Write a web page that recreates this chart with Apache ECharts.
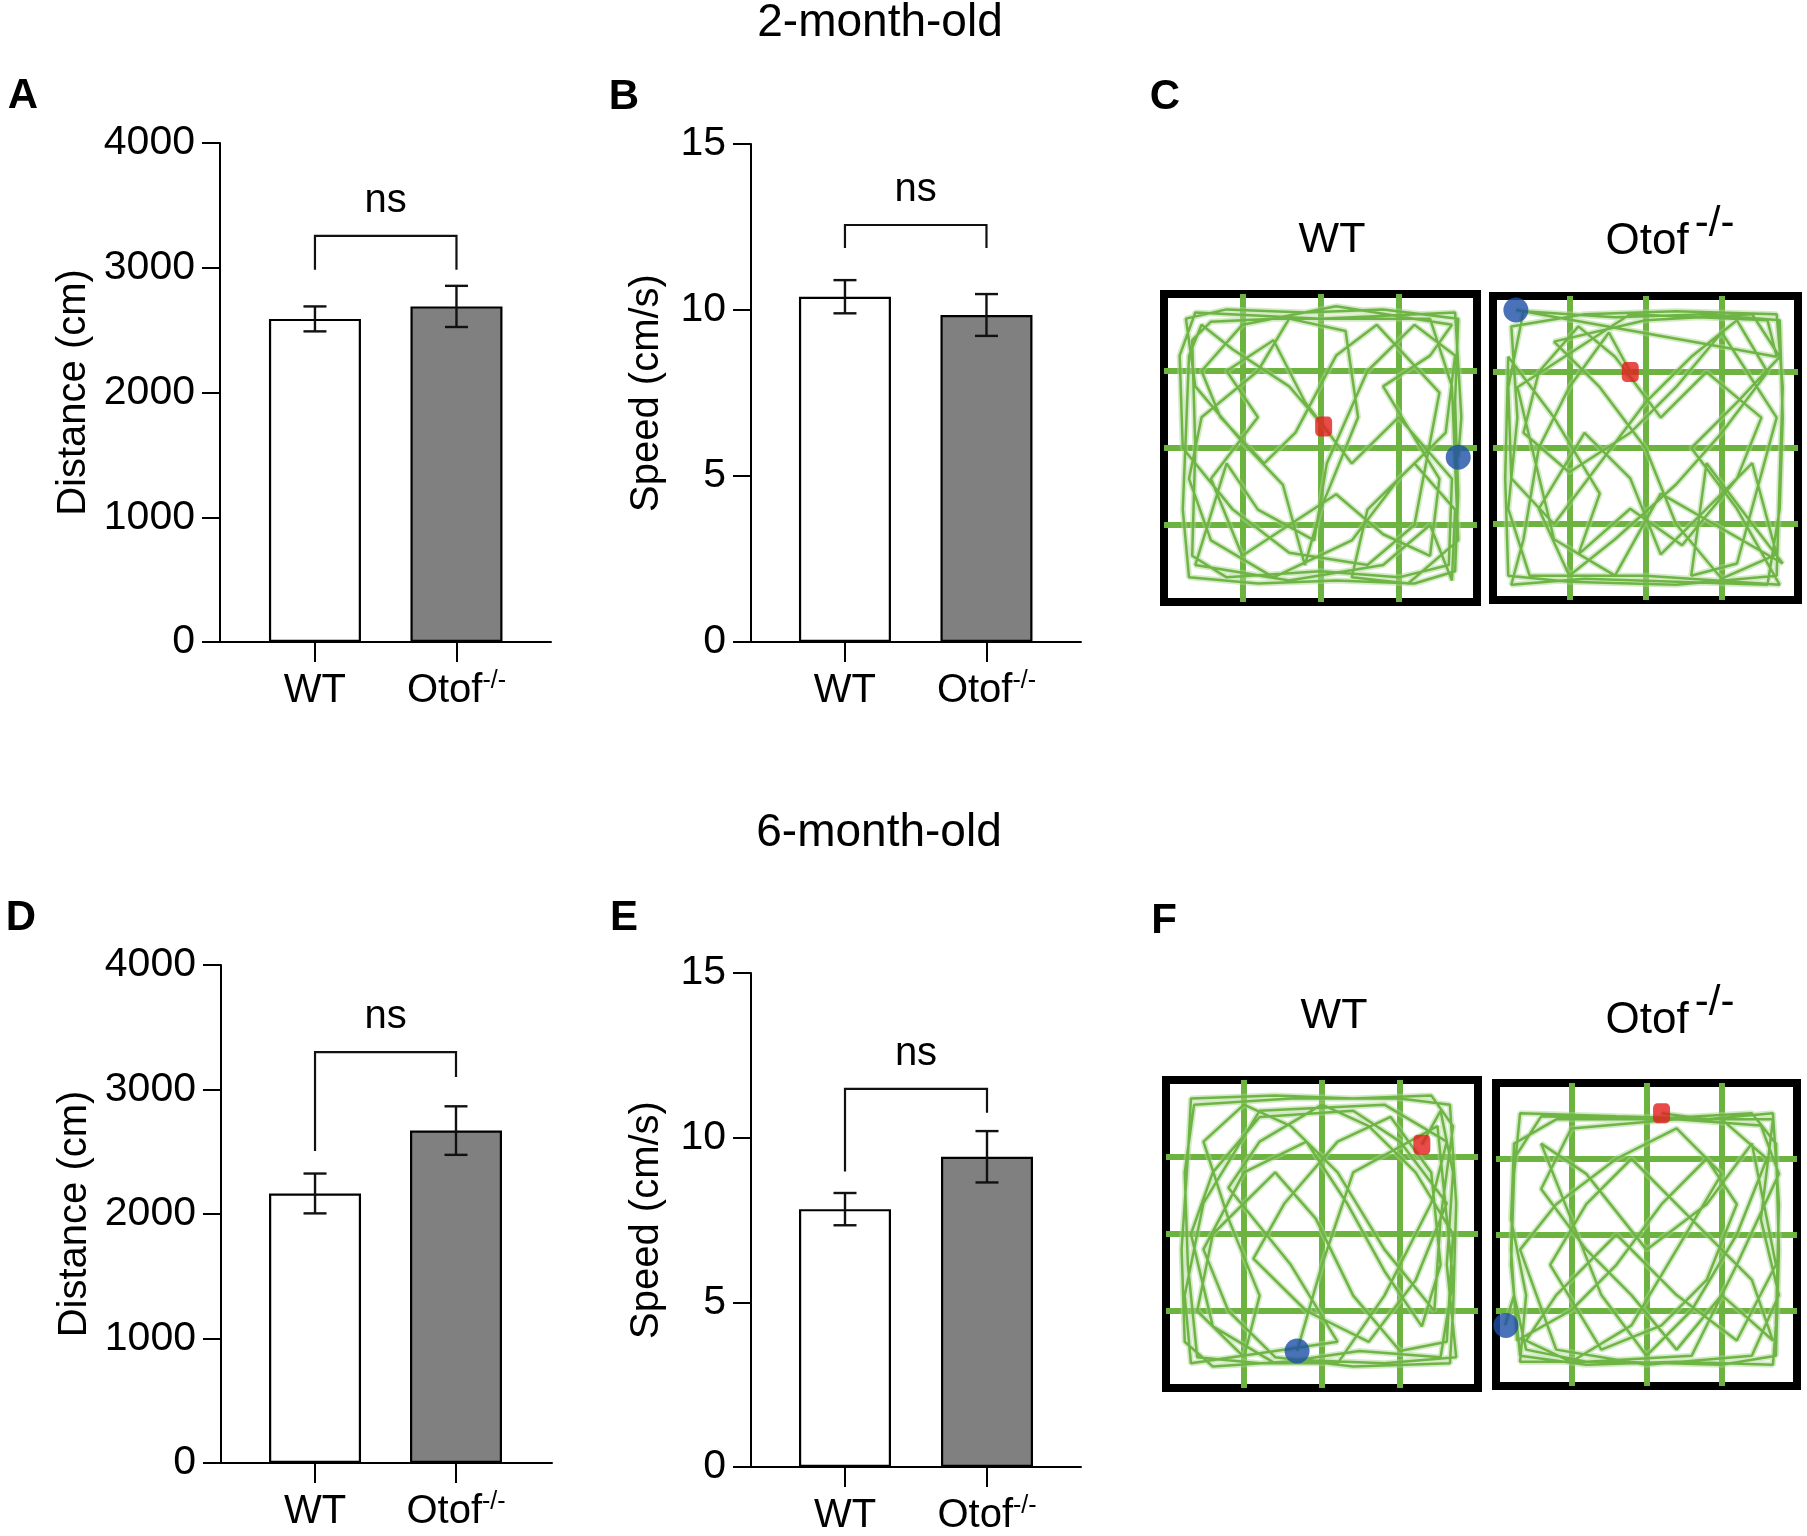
<!DOCTYPE html>
<html>
<head>
<meta charset="utf-8">
<script src="https://cdn.jsdelivr.net/npm/echarts@6.0.0/dist/echarts.min.js"></script>
<style>
  html, body { margin: 0; padding: 0; background: #fff; }
  #chart { width: 1807px; height: 1536px; }
</style>
</head>
<body>
<div id="chart"></div>
<script>
// ---- data ----
const groupPos = [1, 2];
const groupNames = ["WT", "Otof"];

const distance2m = [2590, 2690];
const distance2mSem = [100, 165];
const speed2m = [10.4, 9.85];
const speed2mSem = [0.5, 0.63];

const distance6m = [2165, 2670];
const distance6mSem = [160, 195];
const speed6m = [7.83, 9.42];
const speed6mSem = [0.49, 0.78];

// bracket: [top, left leg end, right leg end]
const bracketA = [3256, 2984, 2984];
const bracketB = [12.56, 11.87, 11.87];
const bracketD = [3300, 2506, 3100];
const bracketE = [11.48, 8.97, 10.76];

const distanceTicks = { min: 0, max: 4000, interval: 1000 };
const speedTicks = { min: 0, max: 15, interval: 5 };
const arenaLines = { min: 0, max: 100, interval: 25 };

// open-field tracks, arena coordinates in % (y from top)
const trackC_WT = [[51,43],[40,30],[22,18],[12,10],[8,20],[7,45],[6,70],[8,92],[30,94],[55,93],[80,94],[93,90],[94,65],[93,35],[94,8],[70,5],[45,6],[20,5],[7,8],[10,30],[25,48],[38,62],[45,88],[50,70],[62,40],[58,12],[40,8],[30,25],[12,40],[8,60],[15,80],[35,92],[60,80],[75,60],[90,45],[93,20],[80,10],[65,25],[52,55],[48,80],[30,70],[20,55],[10,88],[40,93],[70,88],[85,75],[92,93],[93,70],[80,55],[65,70],[60,92],[78,94],[94,80],
  [92,30],[85,8],[60,8],[35,8],[15,9],[9,15],[10,50],[9,85],[20,92],[50,90],[75,92],[91,88],[92,60],[75,40],[60,55],[45,35],[35,15],[20,25],[30,40],[15,60],[25,85],[40,75],[55,65],[70,78],[85,85],[88,60],[70,30],[85,20],[92,10],[55,4],[25,10],[12,25],[18,40],[32,55],[42,45],[55,20],[68,10],[88,32],[80,75],[65,88],[40,84],[22,70],[6,50],[5,20],[10,6],[50,8],[93,6],[95,40],[94,53]];
const trackC_KO = [[45,25],[38,12],[25,30],[15,50],[10,80],[6,95],[30,93],[60,94],[90,95],[94,70],[95,40],[94,8],[70,6],[40,7],[10,5],[5,30],[6,60],[20,75],[35,55],[50,35],[65,20],[80,8],[90,25],[75,45],[60,62],[40,80],[25,92],[15,70],[30,45],[45,60],[55,85],[70,70],[85,55],[93,85],[75,93],[60,75],[50,50],[35,30],[20,15],[50,8],[85,6],[94,20],[80,35],[65,50],[80,70],[94,95],[50,92],[12,92],[5,70],[8,40],[6,10],
  [30,6],[60,5],[93,6],[95,30],[94,60],[93,92],[60,95],[25,94],[5,92],[4,60],[5,20],[20,40],[35,65],[28,85],[45,70],[62,82],[80,60],[88,40],[70,25],[55,40],[40,20],[28,10],[15,25],[10,45],[25,58],[45,45],[60,30],[75,12],[93,40],[80,88],[65,92],[70,55],[85,75],[95,88],[55,65],[40,92],[20,80],[8,30],[45,6],[90,8],[93,20],[7.5,4.6]];
const trackF_WT = [[82,21],[88,10],[92,30],[90,60],[93,90],[70,92],[45,91],[15,93],[6,85],[5,55],[7,25],[8,6],[35,5],[60,6],[85,5],[92,15],[88,45],[86,75],[70,55],[55,30],[40,15],[25,8],[12,20],[20,45],[30,70],[25,90],[10,75],[15,50],[35,30],[48,45],[60,70],[75,88],[90,85],[92,50],[80,30],[65,15],[50,8],[30,20],[20,35],[40,60],[55,85],[35,88],[8,92],[6,70],[12,40],[30,10],[70,8],[90,20],[85,40],[70,70],[55,92],
  [30,92],[10,90],[7,60],[6,30],[9,8],[40,6],[75,6],[91,8],[93,40],[92,75],[91,92],[60,93],[35,90],[20,75],[12,55],[25,30],[45,20],[58,40],[70,62],[82,80],[88,60],[85,30],[72,12],[55,20],[38,40],[28,58],[45,75],[65,85],[80,65],[90,40],[75,20],[60,10],[30,12],[15,30],[8,50],[15,80],[35,92],[62,88],[88,90],[92,65],[87,15],[60,30],[50,60],[42,88]];
const trackF_KO = [[55,10],[70,12],[92,10],[94,40],[93,80],[92,93],[60,92],[30,93],[8,90],[5,60],[6,30],[8,10],[40,11],[75,12],[90,25],[80,50],[65,75],[50,90],[35,70],[25,45],[15,20],[30,30],[50,55],[70,40],[85,20],[93,60],[80,85],[60,70],[40,50],[20,70],[10,85],[25,92],[45,80],[60,55],[75,30],[60,15],[40,25],[20,40],[8,55],[20,88],[50,93],[85,90],[94,70],[88,45],[92,12],[20,12],[6,20],[5,45],[10,70],
  [8,92],[40,92],[75,93],[93,90],[94,55],[93,20],[85,10],[50,12],[15,11],[6,25],[5,55],[7,85],[25,75],[40,60],[55,40],[70,25],[80,40],[70,65],[55,80],[35,88],[18,60],[30,40],[45,25],[65,45],[85,65],[92,85],[75,70],[60,88],[45,70],[30,55],[15,35],[25,15],[60,12],[88,14],[94,30],[80,60],[65,90],[30,92],[10,88],[6,70],[3,80]];

// start (red) and end (blue) spots
const redSpots = [[51,43],[45,25],[82,21],[55,10]];
const blueSpots = [[94,53],[7.5,4.6],[42,88],[3.3,80]];

const FONT = "Liberation Sans, Arial, sans-serif";
const chart = echarts.init(document.getElementById("chart"));

const barGrids = [
  { left: 220, top: 143, width: 331, height: 499, min: 0.329, max: 2.668 },
  { left: 751, top: 144, width: 330, height: 498, min: 0.336, max: 2.668 },
  { left: 221, top: 965, width: 331, height: 498, min: 0.333, max: 2.681 },
  { left: 751, top: 973, width: 330, height: 495, min: 0.338, max: 2.662 },
];
const arenaGrids = [
  { left: 1164, top: 294, width: 313, height: 308 },
  { left: 1493, top: 296, width: 305, height: 304 },
  { left: 1166, top: 1080, width: 312, height: 308 },
  { left: 1496, top: 1083, width: 301, height: 303 },
];

const panels = [
  { means: distance2m, sems: distance2mSem, bracket: bracketA, ticks: distanceTicks, name: "Distance (cm)", gap: 126 },
  { means: speed2m, sems: speed2mSem, bracket: bracketB, ticks: speedTicks, name: "Speed (cm/s)", gap: 84 },
  { means: distance6m, sems: distance6mSem, bracket: bracketD, ticks: distanceTicks, name: "Distance (cm)", gap: 126 },
  { means: speed6m, sems: speed6mSem, bracket: bracketE, ticks: speedTicks, name: "Speed (cm/s)", gap: 84 },
];

const grid = [];
const xAxis = [];
const yAxis = [];
const series = [];

barGrids.forEach((g, i) => {
  const p = panels[i];
  grid.push({ left: g.left, top: g.top, width: g.width, height: g.height });
  xAxis.push({
    gridIndex: i, type: "value", min: g.min, max: g.max,
    axisLine: { onZero: false, lineStyle: { color: "#000", width: 2 } },
    axisTick: { customValues: groupPos, length: 20, lineStyle: { color: "#000", width: 2 } },
    axisLabel: {
      customValues: groupPos, margin: 27, color: "#000", fontFamily: FONT,
      formatter: (v) => (Math.round(v) === 1 ? "{n|" + groupNames[0] + "}" : "{n|" + groupNames[1] + "}{s|-/-}"),
      rich: {
        n: { fontSize: 40, fontFamily: FONT, color: "#000", lineHeight: 44 },
        s: { fontSize: 25, fontFamily: FONT, color: "#000", lineHeight: 24, verticalAlign: "top" },
      },
    },
    splitLine: { show: false },
  });
  yAxis.push({
    gridIndex: i, type: "value", min: p.ticks.min, max: p.ticks.max, interval: p.ticks.interval,
    name: p.name, nameLocation: "middle", nameGap: p.gap,
    nameTextStyle: { fontSize: 40, fontFamily: FONT, color: "#000" },
    axisLine: { show: true, onZero: false, lineStyle: { color: "#000", width: 2 } },
    axisTick: { show: true, length: 18, lineStyle: { color: "#000", width: 2 } },
    axisLabel: { margin: 25, fontSize: 41, fontFamily: FONT, color: "#000", formatter: (v) => String(v) },
    splitLine: { show: false },
  });

  series.push({
    type: "bar", xAxisIndex: i, yAxisIndex: i, barWidth: 92,
    data: groupPos.map((x, k) => ({
      value: [x, p.means[k]],
      itemStyle: { color: k === 0 ? "#ffffff" : "#808080", borderColor: "#000", borderWidth: 2.2 },
    })),
    silent: true,
  });

  series.push({
    type: "custom", xAxisIndex: i, yAxisIndex: i, z: 5,
    data: groupPos.map((x, k) => [x, p.means[k] - p.sems[k], p.means[k] + p.sems[k]]),
    renderItem: (params, api) => {
      const lo = api.coord([api.value(0), api.value(1)]);
      const hi = api.coord([api.value(0), api.value(2)]);
      const w = 11.5;
      const st = { stroke: "#111", lineWidth: 2.4, fill: null };
      return {
        type: "group",
        children: [
          { type: "line", shape: { x1: lo[0], y1: lo[1], x2: hi[0], y2: hi[1] }, style: st },
          { type: "line", shape: { x1: lo[0] - w, y1: lo[1], x2: lo[0] + w, y2: lo[1] }, style: st },
          { type: "line", shape: { x1: hi[0] - w, y1: hi[1], x2: hi[0] + w, y2: hi[1] }, style: st },
        ],
      };
    },
  });

  series.push({
    type: "custom", xAxisIndex: i, yAxisIndex: i, z: 5,
    data: [[groupPos[0], groupPos[1], p.bracket[0], p.bracket[1], p.bracket[2]]],
    renderItem: (params, api) => {
      const a = api.coord([api.value(0), api.value(3)]);
      const b = api.coord([api.value(0), api.value(2)]);
      const c = api.coord([api.value(1), api.value(2)]);
      const d = api.coord([api.value(1), api.value(4)]);
      return {
        type: "group",
        children: [
          { type: "polyline", shape: { points: [a, b, c, d] }, style: { stroke: "#111", lineWidth: 2.2, fill: null } },
          {
            type: "text", x: (b[0] + c[0]) / 2, y: b[1] - 35,
            style: { text: "ns", fontSize: 40, fontFamily: FONT, fill: "#000", align: "center", verticalAlign: "middle" },
          },
        ],
      };
    },
  });
});

const tracks = [trackC_WT, trackC_KO, trackF_WT, trackF_KO];
arenaGrids.forEach((g, j) => {
  const i = j + 4;
  grid.push({ left: g.left, top: g.top, width: g.width, height: g.height, show: true, borderColor: "#000", borderWidth: 8, backgroundColor: "#fff" });
  const ax = (inverse) => ({
    gridIndex: i, type: "value", min: arenaLines.min, max: arenaLines.max, interval: arenaLines.interval, inverse,
    axisLine: { show: false }, axisTick: { show: false }, axisLabel: { show: false },
    splitLine: { show: true, showMinLine: false, showMaxLine: false, lineStyle: { color: "#6cb33f", width: 6 } },
  });
  xAxis.push(ax(false));
  yAxis.push(ax(true));
  series.push({
    type: "line", xAxisIndex: i, yAxisIndex: i, data: tracks[j], showSymbol: false, silent: true,
    lineStyle: { color: "#a9d58f", width: 6, opacity: 0.5 },
  });
  series.push({
    type: "line", xAxisIndex: i, yAxisIndex: i, data: tracks[j], showSymbol: false, silent: true,
    lineStyle: { color: "#6fb545", width: 2.5 },
  });
  series.push({
    type: "scatter", xAxisIndex: i, yAxisIndex: i, data: [redSpots[j]], symbol: "roundRect", symbolSize: [17, 20],
    itemStyle: { color: "#e41d1d" }, z: 6, silent: true,
  });
  series.push({
    type: "scatter", xAxisIndex: i, yAxisIndex: i, data: [blueSpots[j]], symbol: "circle", symbolSize: 25,
    itemStyle: { color: "#1d4fa6" }, z: 7, silent: true,
  });
});

const txt = (x, y, text, size, bold, rich) => ({
  type: "text", x, y, z: 100,
  style: {
    text, fontSize: size, fontWeight: bold ? "bold" : "normal", fontFamily: FONT, fill: "#000",
    align: "center", verticalAlign: "middle", rich,
  },
});
// superscript raised with bottom padding
const koRich = {
  n: { fontSize: 44, fontFamily: FONT, fill: "#000", lineHeight: 50 },
  s: { fontSize: 42, fontFamily: FONT, fill: "#000", lineHeight: 42, padding: [0, 0, 36, 6] },
};

const graphic = [
  txt(880, 23, "2-month-old", 46),
  txt(879, 833, "6-month-old", 46),
  txt(23, 96, "A", 42, true),
  txt(624, 97, "B", 42, true),
  txt(1165, 97, "C", 42, true),
  txt(21, 918, "D", 42, true),
  txt(624, 918, "E", 42, true),
  txt(1164, 921, "F", 42, true),
  txt(1332, 240, "WT", 43),
  txt(1670, 242, "{n|Otof}{s|-/-}", 44, false, koRich),
  txt(1334, 1016, "WT", 43),
  txt(1670, 1021, "{n|Otof}{s|-/-}", 44, false, koRich),
];

chart.setOption({
  animation: false,
  backgroundColor: "#fff",
  grid, xAxis, yAxis, series, graphic,
});
</script>
</body>
</html>
